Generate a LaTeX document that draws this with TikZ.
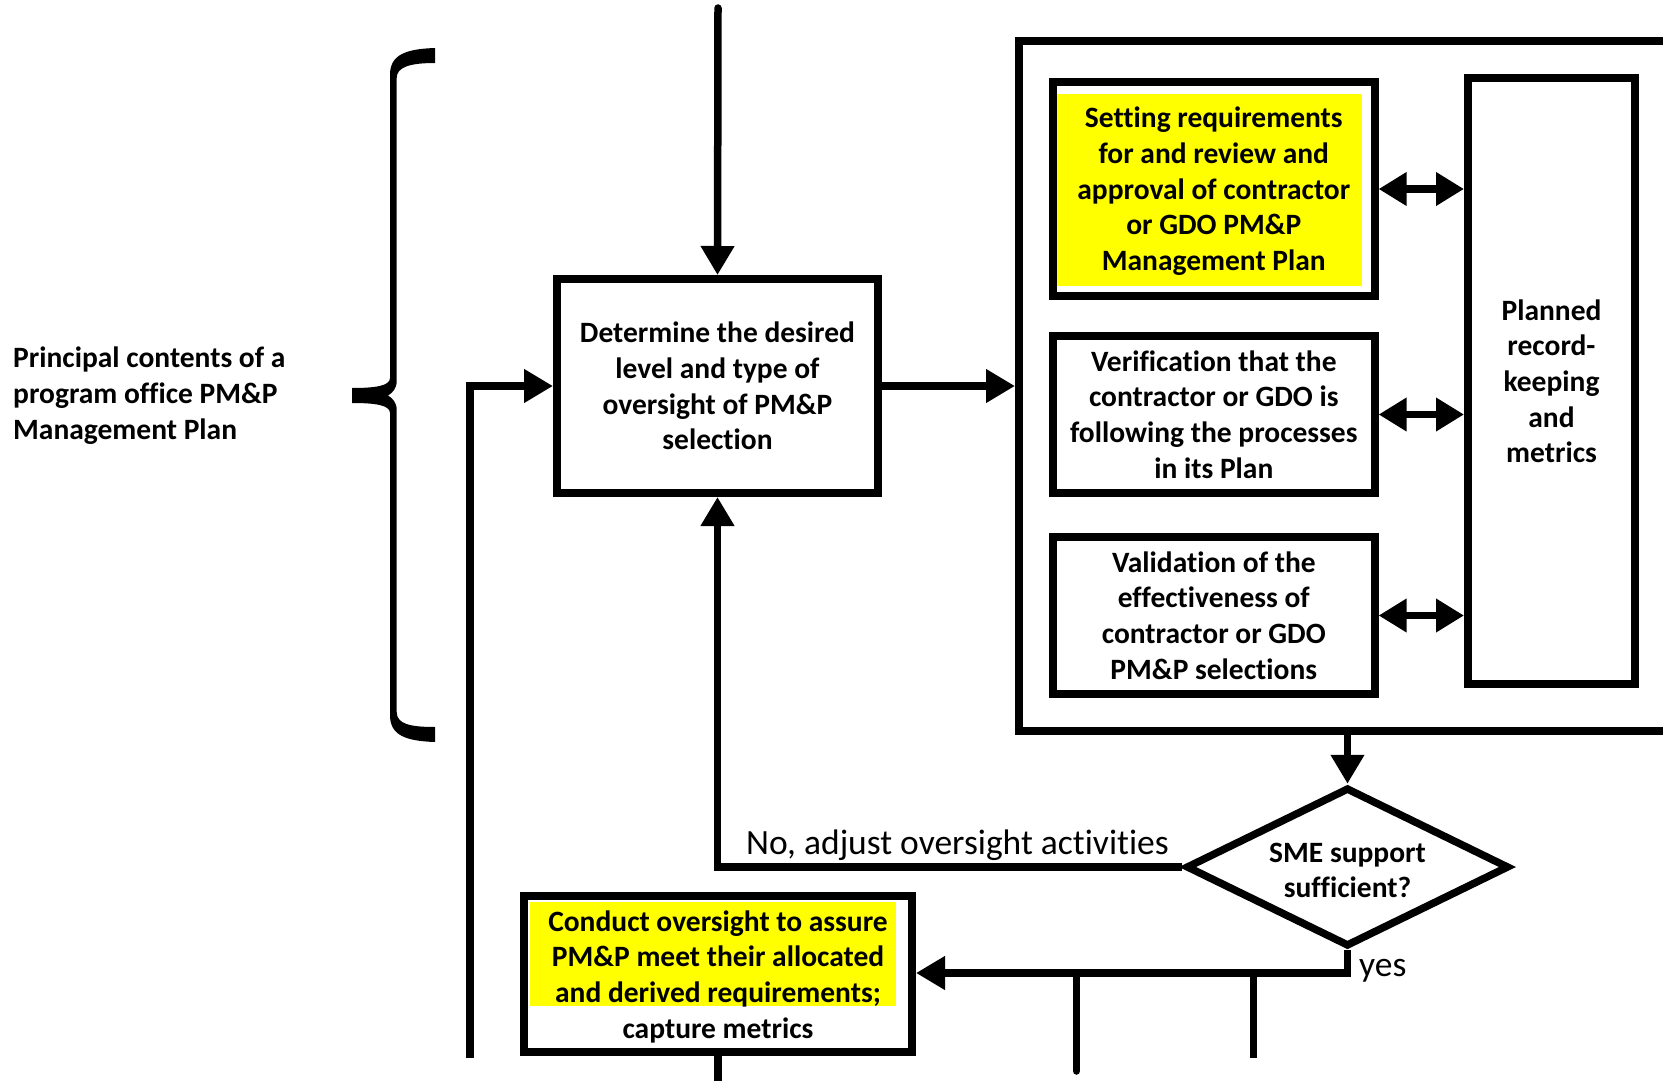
\documentclass[tikz,border=0pt]{standalone}
\usepackage{fontspec}
\setmainfont{Carlito}[Ligatures={TeX,NoCommon}]
\usetikzlibrary{arrows.meta,shapes.geometric}
\begin{document}
\begin{tikzpicture}[x=1pt,y=-1pt,
  btext/.style={font=\bfseries\fontsize{29.5}{35.7}\selectfont},
  box/.style={draw, line width=8pt, rectangle, inner sep=0pt, align=center, btext},
  arr/.style={line width=7.5pt, -{Triangle[length=29pt,width=32pt]}},
  darr/.style={line width=7.5pt, {Triangle[length=28pt,width=32pt]}-{Triangle[length=28pt,width=32pt]}},
  ln/.style={line width=7.5pt},
  rtext/.style={font=\fontsize{35.5}{42}\selectfont, inner sep=0pt},
  hl/.style={fill={rgb,255:red,255;green,255;blue,0}}
  ]
\useasboundingbox (0,0) rectangle (1663,1081);
\clip (0,0) rectangle (1663,1081);
\fill[white] (0,0) rectangle (1663,1081);

% yellow highlights
\fill[hl] (1057,94) rectangle (1362,286);
\fill[hl] (530,901.5) rectangle (896,1005.5);

% brace
\fill (435,48) .. controls (405,49) and (390,55) .. (390,75)
  -- (390,378) .. controls (390,386) and (375,388) .. (352,388)
  -- (352,403) .. controls (375,403) and (390,405) .. (390,413)
  -- (390,715) .. controls (390,735) and (405,741) .. (435,742)
  -- (435,727) .. controls (410,727) and (396.7,724) .. (396.7,712)
  -- (396.7,410) .. controls (396.7,402) and (392,398) .. (388,395.5)
  .. controls (392,393) and (396.7,389) .. (396.7,381)
  -- (396.7,78) .. controls (396.7,67) and (410,63) .. (435,63) -- cycle;

\node[btext, anchor=west, align=left, inner sep=0pt] (lt) at (13,395.5)
  {Principal contents of a\\program office PM\&P\\Management Plan};

\node[box, minimum width=321pt, minimum height=214pt] (det) at (717.5,386)
  {Determine the desired\\level and type of\\oversight of PM\&P\\selection};

\node[box, minimum width=700pt, minimum height=689.6pt] (cont) at (1369,386.2) {};

\node[box, minimum width=321.6pt, minimum height=214pt] (b1) at (1213.8,189)
  {\rule{0pt}{25pt}Setting requirements\\for and review and\\approval of contractor\\or GDO PM\&P\\Management Plan};
\node[box, minimum width=321.6pt, minimum height=157pt] (b2) at (1213.8,414.5)
  {Verification that the\\contractor or GDO is\\following the processes\\in its Plan};
\node[box, minimum width=321.6pt, minimum height=157pt] (b3) at (1213.8,615.5)
  {Validation of the\\effectiveness of\\contractor or GDO\\PM\&P selections};
\node[box, minimum width=167pt, minimum height=605.5pt] (pl) at (1551.5,381.25)
  {Planned\\record-\\keeping\\and\\metrics};

\node[draw, diamond, line width=7.5pt, minimum width=323pt, minimum height=159pt,
  inner sep=0pt, aspect=2, align=center, btext] (dia) at (1347.5,867)
  {\rule{0pt}{26pt}SME support\\sufficient?};

\node[box, minimum width=388pt, minimum height=156.5pt] (cond) at (718,973.75)
  {\rule{0pt}{26.5pt}Conduct oversight to assure\\PM\&P meet their allocated\\and derived requirements;\\capture metrics};

% connectors
\coordinate (topin) at (718,8);
\draw[arr, line cap=round] (topin) -- (det.north);

\coordinate (lbot) at (470,1058);
\draw[arr] (lbot) -- (lbot |- det.west) -- (det.west);

\draw[arr] (det.east) -- (det.east -| cont.west);

\draw[darr] (b1.east) -- (b1.east -| pl.west);
\draw[darr] (b2.east) -- (b2.east -| pl.west);
\draw[darr] (b3.east) -- (b3.east -| pl.west);

\draw[arr] (dia.north |- cont.south) -- (dia.north);

\draw[arr] (dia.west) -- (dia.west -| det.south) -- (det.south);
\node[rtext, anchor=base west] (nolab) at (746,854) {No, adjust oversight activities};

\coordinate (yc) at (1347.5,973);
\draw[arr] (dia.south) -- (yc) -- (yc -| cond.east);
\node[rtext, anchor=base west] (yeslab) at (1359,976) {yes};

\coordinate (v1) at (1076.5,1071);
\draw[ln, line cap=round] (v1 |- yc) -- (v1);
\coordinate (v2) at (1253.5,1058);
\draw[ln] (v2 |- yc) -- (v2);
\coordinate (cbot) at (718,1095);
\draw[ln] (cond.south) -- (cbot);
\end{tikzpicture}
\end{document}
